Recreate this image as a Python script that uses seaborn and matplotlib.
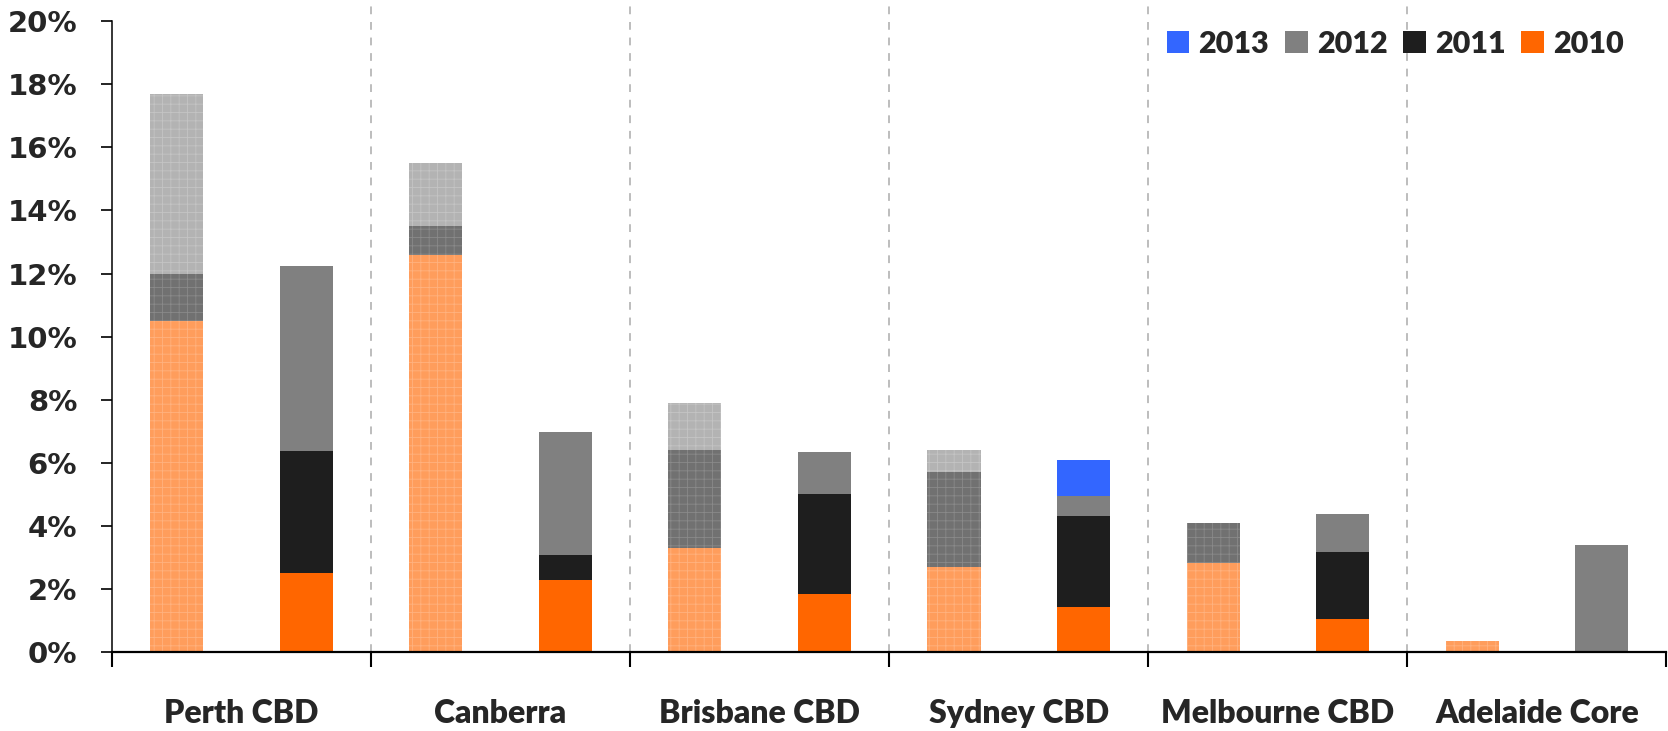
import matplotlib as mpl
import matplotlib.pyplot as plt
import pandas as pd
import seaborn as sns
from matplotlib.patches import Patch

# values in percent
cities = ["Perth CBD", "Canberra", "Brisbane CBD", "Sydney CBD", "Melbourne CBD", "Adelaide Core"]
years = ["2010", "2011", "2012", "2013"]

left_2010 = [10.5, 12.6, 3.3, 2.7, 2.83, 0.34]
left_2011 = [1.5, 0.9, 3.1, 3.0, 1.25, 0.0]
left_2012 = [5.7, 2.0, 1.5, 0.7, 0.0, 0.0]
left_2013 = [0.0, 0.0, 0.0, 0.0, 0.0, 0.0]

right_2010 = [2.5, 2.3, 1.85, 1.42, 1.05, 0.0]
right_2011 = [3.87, 0.77, 3.15, 2.9, 2.12, 0.0]
right_2012 = [5.87, 3.9, 1.35, 0.64, 1.21, 3.38]
right_2013 = [0.0, 0.0, 0.0, 1.14, 0.0, 0.0]

y_ticks = list(range(0, 21, 2))

solid_colors = {"2010": "#FF6600", "2011": "#1E1E1E", "2012": "#808080", "2013": "#3366FF"}
light_colors = {"2010": "#FF9D5C", "2011": "#717171", "2012": "#B3B3B3", "2013": "#8FAAFF"}
hatch_colors = {"2010": "#FFB27F", "2011": "#8A8A8A", "2012": "#C4C4C4", "2013": "#A8BEFF"}

rows = []
for side, series in [("left", [left_2010, left_2011, left_2012, left_2013]),
                     ("right", [right_2010, right_2011, right_2012, right_2013])]:
    for i, city in enumerate(cities):
        for y, vals in zip(years, series):
            rows.append({"city": city, "side": side, "year": y, "value": vals[i]})
df = pd.DataFrame(rows)
df["cum"] = df.groupby(["city", "side"])["value"].cumsum()

sns.set_theme(style="white")
mpl.rcParams["hatch.linewidth"] = 0.6

fig = plt.figure(figsize=(16.68, 7.31), dpi=100)
ax = fig.add_axes([0.0671, 0.108, 0.932, 0.863])

# stacked bars: draw cumulative totals from the top layer down
for y in reversed(years):
    layer = df[df["year"] == y]
    n_before = len(ax.patches)
    sns.barplot(data=layer, x="city", y="cum", hue="side", order=cities,
                hue_order=["left", "right"],
                palette={"left": light_colors[y], "right": solid_colors[y]},
                width=1.0, gap=0.59, legend=False, ax=ax, linewidth=0,
                saturation=1, errorbar=None)
    for p in ax.patches[n_before:]:
        cx = p.get_x() + p.get_width() / 2
        if (cx % 1) > 0.5:
            p.set_hatch("++")
            p.set_edgecolor(hatch_colors[y])
            p.set_linewidth(0)

ax.set_xlim(-0.5, len(cities) - 0.5)
ax.set_ylim(0, 20)
ax.set_yticks(y_ticks)
ax.set_yticklabels([f"{v}%" for v in y_ticks], fontsize=21, fontweight="bold",
                   family="DejaVu Sans")
ax.set_xlabel("")
ax.set_ylabel("")

# group boundaries
bounds = [i - 0.5 for i in range(len(cities) + 1)]
ax.set_xticks(bounds)
ax.set_xticklabels([])
ax.set_xticks(range(len(cities)), minor=True)
ax.set_xticklabels(cities, minor=True, fontsize=23, fontweight=800, family="Lato")
ax.tick_params(axis="x", which="major", direction="out", length=11, width=1.5,
               color="black", bottom=True)
ax.tick_params(axis="x", which="minor", length=0, pad=34, bottom=True)
ax.tick_params(axis="y", direction="out", length=8, width=1.2, color="black",
               pad=17, left=True)

for b in bounds[1:-1]:
    ax.axvline(b, ymin=0, ymax=1.035, color="#BDBDBD", linestyle=(0, (4, 4)),
               linewidth=1.4, clip_on=False, zorder=0)

for side in ["top", "right"]:
    ax.spines[side].set_visible(False)
ax.spines["left"].set_color("black")
ax.spines["left"].set_linewidth(1.1)
ax.spines["bottom"].set_color("black")
ax.spines["bottom"].set_linewidth(1.6)
ax.grid(False)

handles = [Patch(facecolor=solid_colors[y], edgecolor="none", label=y)
           for y in reversed(years)]
ax.legend(handles=handles, loc="upper right", bbox_to_anchor=(0.99, 1.03), ncol=4,
          frameon=False, prop={"family": "Lato", "weight": 800, "size": 22},
          handlelength=0.75, handleheight=0.75, handletextpad=0.3,
          columnspacing=0.5)

fig.savefig("out.png", dpi=100, facecolor="white")
